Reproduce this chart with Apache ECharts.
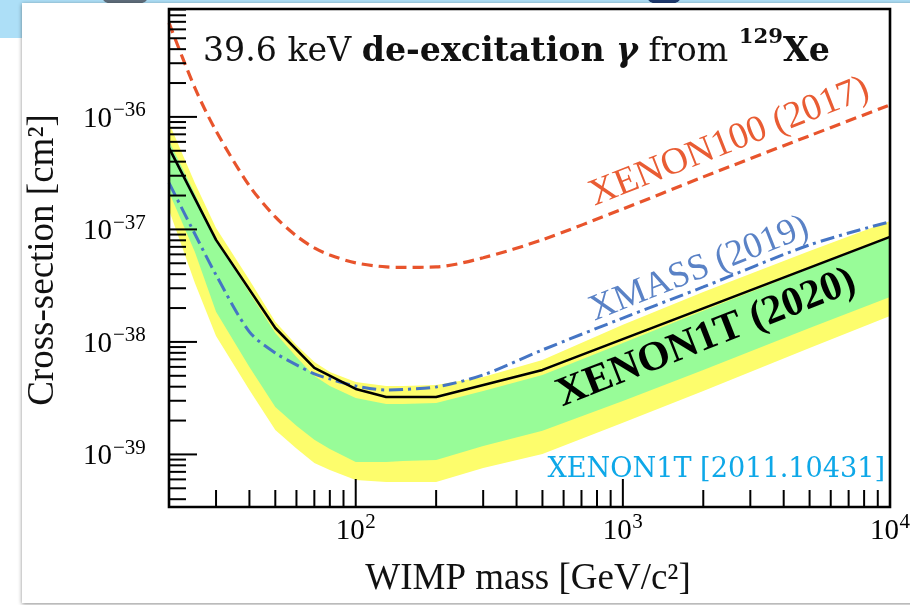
<!DOCTYPE html>
<html>
<head>
<meta charset="utf-8" />
<title>39.6 keV de-excitation from 129Xe</title>
<style>
  html, body { margin: 0; padding: 0; background: #fff; }
  #main { width: 910px; height: 605px; }
</style>
</head>
<body>
<div id="main"></div>
<script src="https://cdn.jsdelivr.net/npm/echarts@6/dist/echarts.min.js"></script>
<script>
// WIMP masses [GeV/c^2] at which the curves were read
var mass = [20, 25, 30, 40, 50, 60, 70, 80, 100, 130, 150, 200, 300, 500, 1000, 2000, 5000, 10000];

// XENON100 (2017) limit [cm^2]
var xenon100 = [6.85e-36, 1.81e-36, 7.5e-37, 2.44e-37, 1.29e-37, 8.75e-38, 6.85e-38, 5.93e-38, 5.04e-38, 4.64e-38,
  4.6e-38, 4.64e-38, 5.6e-38, 8.1e-38, 1.52e-37, 2.93e-37, 6.8e-37, 1.28e-36];

// XMASS (2019) limit
var xmass = [2.59e-37, 9.1e-38, 3.94e-38, 1.23e-38, 7.98e-39, 6.25e-39, 5.2e-39, 4.69e-39, 4.06e-39, 3.74e-39,
  3.78e-39, 3.98e-39, 5.09e-39, 8.49e-39, 1.63e-38, 3.08e-38, 7.28e-38, 1.17e-37];

// expected sensitivity bands (2 sigma yellow, 1 sigma green)
var band2Hi = [8.85e-37, 2.59e-37, 1.03e-37, 3.56e-38, 1.51e-38, 9.4e-39, 6.64e-39, 5.41e-39, 4.41e-39, 4.06e-39,
  4.06e-39, 4.15e-39, 4.89e-39, 6.92e-39, 1.42e-38, 2.78e-38, 6.44e-38, 1.19e-37];
var band1Hi = [6.12e-37, 2.07e-37, 8.07e-38, 2.73e-38, 1.2e-38, 7.36e-39, 4.99e-39, 4.06e-39, 3.18e-39, 2.81e-39,
  2.81e-39, 2.87e-39, 3.66e-39, 5.09e-39, 9.8e-39, 1.89e-38, 4.46e-38, 8.4e-38];
var band1Lo = [2.15e-37, 6.31e-38, 1.85e-38, 6.0e-39, 2.64e-39, 1.8e-39, 1.35e-39, 1.12e-39, 8.58e-40, 8.58e-40,
  8.75e-40, 8.93e-40, 1.19e-39, 1.62e-39, 2.99e-39, 5.64e-39, 1.33e-38, 2.51e-38];
var band2Lo = [1.49e-37, 3.34e-38, 1.13e-38, 3.74e-39, 1.65e-39, 1.13e-39, 8.4e-40, 7.28e-40, 5.93e-40, 5.7e-40,
  5.7e-40, 5.7e-40, 7.59e-40, 1.01e-39, 1.91e-39, 3.66e-39, 8.85e-39, 1.70e-38];

// XENON1T (2020) observed limit, piecewise
var limitMass = [20, 30, 50, 70, 100, 130, 200, 500, 10000];
var limit = [5.3e-37, 8.07e-38, 1.33e-38, 5.87e-39, 3.82e-39, 3.24e-39, 3.24e-39, 5.64e-39, 8.58e-38];

// axes
var xMin = 20, xMax = 10000, yMin = 3.41e-40, yMax = 9.1e-36;
var xMajor = [100, 1000, 10000];
var xMinor = [30, 40, 50, 60, 70, 80, 90, 200, 300, 400, 500, 600, 700, 800, 900,
  2000, 3000, 4000, 5000, 6000, 7000, 8000, 9000];
var xTickText = ['10', '10', '10'];
var xTickSup = ['2', '3', '4'];
var yMajor = [1e-39, 1e-38, 1e-37, 1e-36];
var yMinor = [4e-40, 5e-40, 6e-40, 7e-40, 8e-40, 9e-40,
  2e-39, 3e-39, 4e-39, 5e-39, 6e-39, 7e-39, 8e-39, 9e-39,
  2e-38, 3e-38, 4e-38, 5e-38, 6e-38, 7e-38, 8e-38, 9e-38,
  2e-37, 3e-37, 4e-37, 5e-37, 6e-37, 7e-37, 8e-37, 9e-37,
  2e-36, 3e-36, 4e-36, 5e-36, 6e-36, 7e-36, 8e-36, 9e-36];
var yTickText = ['10', '10', '10', '10'];
var yTickSup = ['\u221239', '\u221238', '\u221237', '\u221236'];

var SERIF = '"Liberation Serif", serif';
var GEORGIA = '"DejaVu Serif", serif';

var measureCtx = document.createElement('canvas').getContext('2d');
function textWidth(s, font) {
  measureCtx.font = font;
  return measureCtx.measureText(s).width;
}
// font size so that the string spans the given width
function fitSize(s, weight, family, target) {
  return 100 * target / textWidth(s, weight + ' 100px ' + family);
}

function pairs(xs, ys) {
  return xs.map(function (x, i) { return [x, ys[i]]; });
}

function bandRenderer(hi, lo, color) {
  return function (params, api) {
    var pts = [];
    for (var i = 0; i < mass.length; i++) pts.push(api.coord([mass[i], hi[i]]));
    for (var j = mass.length - 1; j >= 0; j--) pts.push(api.coord([mass[j], lo[j]]));
    return { type: 'polygon', shape: { points: pts }, style: { fill: color } };
  };
}

function label(x, y, s, size, align) {
  return {
    type: 'text', x: x, y: y,
    style: {
      text: s, font: size + 'px ' + SERIF, fill: '#000',
      align: align, textAlign: align, verticalAlign: 'middle', textVerticalAlign: 'middle'
    }
  };
}

function renderAxes(params, api) {
  var bl = api.coord([xMin, yMin]);
  var tr = api.coord([xMax, yMax]);
  var left = bl[0], bottom = bl[1], right = tr[0], top = tr[1];
  var kids = [];
  function tick(x1, y1, x2, y2) {
    kids.push({ type: 'line', shape: { x1: x1, y1: y1, x2: x2, y2: y2 }, style: { stroke: '#000', lineWidth: 2 } });
  }
  xMinor.forEach(function (v) {
    var x = api.coord([v, yMin])[0];
    tick(x, bottom, x, bottom - 17);
  });
  xMajor.forEach(function (v, i) {
    var x = api.coord([v, yMin])[0];
    tick(x, bottom, x, bottom - 28);
    kids.push(label(x + 9, bottom + 24, xTickText[i], 29, 'right'));
    kids.push(label(x + 9.5, bottom + 15, xTickSup[i], 21, 'left'));
  });
  yMinor.forEach(function (v) {
    var y = api.coord([xMin, v])[1];
    tick(left, y, left + 17, y);
  });
  yMajor.forEach(function (v, i) {
    var y = api.coord([xMin, v])[1];
    tick(left, y, left + 28, y);
    kids.push(label(left - 57, y + 2, yTickText[i], 29, 'right'));
    kids.push(label(left - 56, y - 6, yTickSup[i], 21, 'left'));
  });
  kids.push({
    type: 'rect', shape: { x: left, y: top, width: right - left, height: bottom - top },
    style: { fill: 'none', stroke: '#000', lineWidth: 2.6 }
  });
  return { type: 'group', children: kids };
}

// rotated curve labels, anchored at the start of their baseline
function slanted(s, weight, family, target, bx, by, deg, color) {
  var size = fitSize(s, weight, family, target);
  var a = deg * Math.PI / 180;
  return {
    type: 'text', z: 10,
    x: bx - 0.3 * size * Math.sin(a), y: by - 0.3 * size * Math.cos(a), rotation: a,
    style: {
      text: s, font: weight + ' ' + size.toFixed(1) + 'px ' + family, fill: color,
      align: 'left', textAlign: 'left', verticalAlign: 'middle', textVerticalAlign: 'middle'
    }
  };
}

// title pieces laid out along one baseline
var titleParts = [
  ['39.6 keV ', 'normal'], ['de-excitation ', 'bold'], ['\u03b3', 'italic bold'],
  [' from ', 'normal'], ['129', 'bold', true], ['Xe', 'bold']
];
function titleElements(x0, baseline, target) {
  var supScale = 0.64, total = 0;
  titleParts.forEach(function (p) {
    total += textWidth(p[0], p[1] + ' ' + (p[2] ? 100 * supScale : 100) + 'px ' + GEORGIA);
  });
  var fs = 100 * target / total, x = x0, out = [];
  titleParts.forEach(function (p) {
    var size = p[2] ? fs * supScale : fs;
    var font = p[1] + ' ' + size.toFixed(1) + 'px ' + GEORGIA;
    var base = p[2] ? baseline - 0.56 * fs : baseline;
    out.push({
      type: 'text', z: 10, x: x, y: base - 0.3 * size,
      style: {
        text: p[0], font: font, fill: '#111',
        align: 'left', textAlign: 'left', verticalAlign: 'middle', textVerticalAlign: 'middle'
      }
    });
    x += textWidth(p[0], font);
  });
  return out;
}

var refSize = fitSize('XENON1T [2011.10431]', 'normal', GEORGIA, 337);

var graphics = [
  { type: 'rect', z: -20, shape: { x: 0, y: 0, width: 910, height: 38 }, style: { fill: '#addff7' } },
  { type: 'circle', z: -19, x: 125, y: -1, scaleY: 0.3, shape: { cx: 0, cy: 0, r: 22 }, style: { fill: '#5f6e7c' } },
  { type: 'circle', z: -19, x: 664, y: -1, scaleY: 0.35, shape: { cx: 0, cy: 0, r: 16 }, style: { fill: '#1d3a70' } },
  {
    type: 'rect', z: -18, shape: { x: 22, y: 3, width: 900, height: 600 },
    style: { fill: '#fff', shadowBlur: 4, shadowColor: 'rgba(0,0,0,0.45)', shadowOffsetY: 1 }
  },
  {
    type: 'text', z: 10, x: 528, y: 579,
    style: {
      text: 'WIMP mass [GeV/c\u00b2]', font: '37px ' + SERIF, fill: '#111',
      align: 'center', textAlign: 'center', verticalAlign: 'middle', textVerticalAlign: 'middle'
    }
  },
  {
    type: 'text', z: 10, x: 43, y: 260, rotation: Math.PI / 2,
    style: {
      text: 'Cross-section [cm\u00b2]', font: '37px ' + SERIF, fill: '#111',
      align: 'center', textAlign: 'center', verticalAlign: 'middle', textVerticalAlign: 'middle'
    }
  },
  slanted('XENON100 (2017)', 'normal', SERIF, 298, 595, 207, 21.5, '#e95c33'),
  slanted('XMASS (2019)', 'normal', SERIF, 233, 595, 322, 21.6, '#5a82c6'),
  slanted('XENON1T (2020)', 'bold', SERIF, 318, 563, 408, 21.5, '#000'),
  {
    type: 'text', z: 10, x: 885, y: 478 - 0.3 * refSize,
    style: {
      text: 'XENON1T [2011.10431]', font: refSize.toFixed(1) + 'px ' + GEORGIA, fill: '#0ea8e8',
      align: 'right', textAlign: 'right', verticalAlign: 'middle', textVerticalAlign: 'middle'
    }
  }
].concat(titleElements(203, 62, 627));

var chart = echarts.init(document.getElementById('main'));
chart.setOption({
  backgroundColor: '#ffffff',
  animation: false,
  grid: { left: 169, top: 9, right: 20, bottom: 98, show: false },
  xAxis: {
    type: 'log', logBase: 10, min: xMin, max: xMax,
    axisLine: { show: false }, axisTick: { show: false }, axisLabel: { show: false }, splitLine: { show: false }
  },
  yAxis: {
    type: 'log', logBase: 10, min: yMin, max: yMax,
    axisLine: { show: false }, axisTick: { show: false }, axisLabel: { show: false }, splitLine: { show: false }
  },
  graphic: graphics,
  series: [
    { type: 'custom', silent: true, z: 1, data: [[mass[0], band2Hi[0]]], renderItem: bandRenderer(band2Hi, band2Lo, '#fdfd6c') },
    { type: 'custom', silent: true, z: 1.5, data: [[mass[0], band1Hi[0]]], renderItem: bandRenderer(band1Hi, band1Lo, '#98fc98') },
    {
      type: 'line', name: 'XENON100 (2017)', z: 3, silent: true, symbol: 'none', smooth: 0.3,
      data: pairs(mass, xenon100),
      lineStyle: { color: '#e8542c', width: 3.2, type: [11, 6] }
    },
    {
      type: 'line', name: 'XMASS (2019)', z: 3, silent: true, symbol: 'none', smooth: 0.3,
      data: pairs(mass, xmass),
      lineStyle: { color: '#4575c4', width: 3, type: [14, 5, 3, 5] }
    },
    {
      type: 'line', name: 'XENON1T (2020)', z: 4, silent: true, symbol: 'none',
      data: pairs(limitMass, limit),
      lineStyle: { color: '#000', width: 2.6 }
    },
    { type: 'custom', silent: true, z: 5, data: [[100, 1e-38]], renderItem: renderAxes }
  ]
});
</script>
</body>
</html>
